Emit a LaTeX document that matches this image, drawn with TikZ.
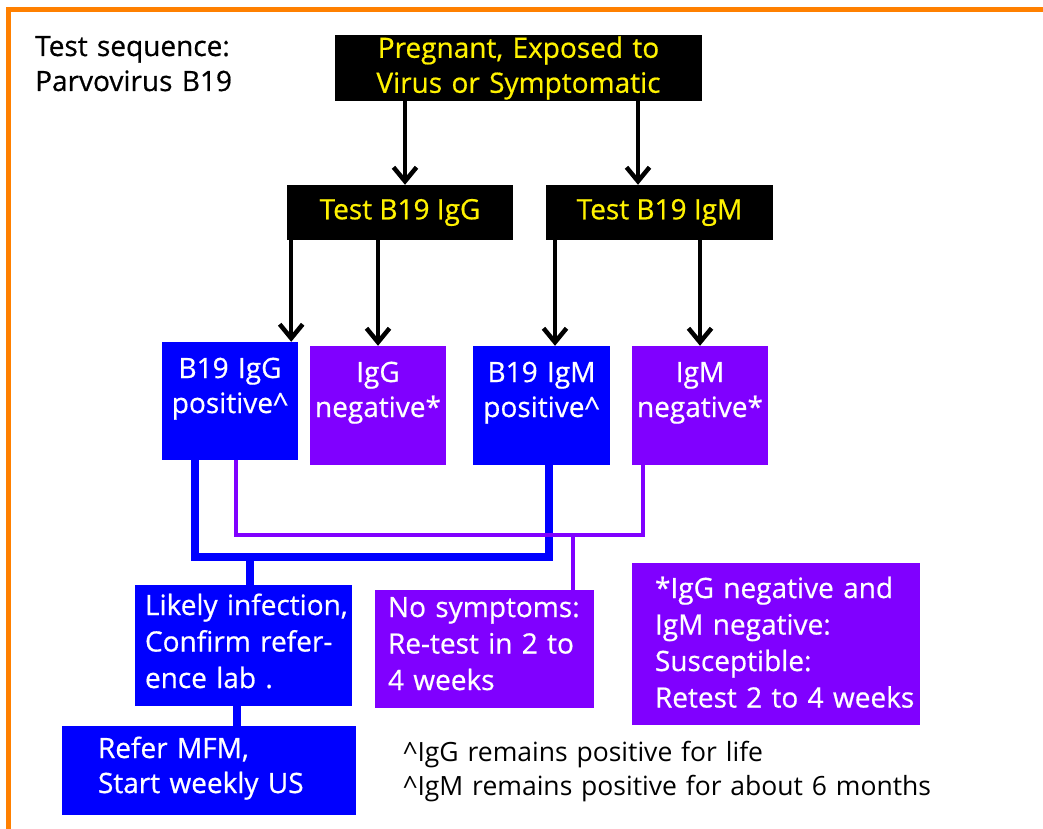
\documentclass[tikz,border=0pt]{standalone}
\usepackage{fontspec}
\setmainfont{Open Sans}[FakeBold=0.6]
\newfontfamily\notefont{Open Sans}
\usetikzlibrary{arrows.meta}
\definecolor{bblue}{HTML}{0000FF}
\definecolor{bviolet}{HTML}{8000FF}
\definecolor{frame}{HTML}{FF8000}
\begin{document}
\begin{tikzpicture}[x=1pt, y=-1pt, >={Straight Barb[length=14pt,width=23pt,line width=4.5pt]}]
\tikzstyle{every node}=[inner sep=0pt, font=\fontsize{28}{35}\selectfont]
\tikzstyle{blk}=[rectangle, fill=black, text=yellow, align=center]
\tikzstyle{res}=[rectangle, text=white, align=center, text width=136pt, text height=36pt, text depth=83pt]
\tikzstyle{act}=[rectangle, text=white, align=left, font=\fontsize{28}{36.5}\selectfont]
\tikzstyle{arr}=[->, line width=3.5pt]
\tikzstyle{bline}=[bblue, line width=8pt]
\tikzstyle{pline}=[bviolet, line width=4pt]
\useasboundingbox (0,0) rectangle (1043,829);
\draw[frame, line width=5pt] (8.5,829) -- (8.5,9.5) -- (1043,9.5);
% title and notes
\node[anchor=base west, align=left, text width=260pt](title) at (35,56) {Test sequence:\\Parvovirus B19};
\node[anchor=base west, align=left, text width=600pt, font=\notefont\fontsize{26.5}{34}\selectfont](notes) at (403,761) {\textasciicircum IgG remains positive for life\\\textasciicircum IgM remains positive for about 6 months};
% tests
\node[blk, minimum width=367pt, minimum height=66pt, text width=367pt](start) at (518.5,68) {Pregnant, Exposed to\\Virus or Symptomatic};
\node[blk, minimum width=226pt, minimum height=55pt](tigg) at (400,212.5) {Test B19 IgG};
\node[blk, minimum width=227pt, minimum height=55pt](tigm) at (659.5,212.5) {Test B19 IgM};
% results
\node[res, fill=bblue, text depth=82pt](igGpos) at (230,401) {B19 IgG\\positive\textasciicircum};
\node[res, fill=bviolet](igGneg) at (378,405.5) {IgG\\negative*};
\node[res, fill=bblue, text width=137pt](igMpos) at (541.5,405.5) {B19 IgM\\positive\textasciicircum};
\node[res, fill=bviolet](igMneg) at (700,405.5) {IgM\\negative*};
% actions
\node[act, fill=bblue, text width=197pt, inner xsep=10pt, text height=30pt, text depth=91pt](likely) at (243.5,645.5) {\mbox{Likely infection,}\\Confirm refer-\\ence lab .};
\node[act, fill=bblue, text width=222pt, inner xsep=36pt, text height=32pt, text depth=57pt, font=\fontsize{28}{35}\selectfont](refer) at (209,770.5) {Refer MFM,\\Start weekly US};
\node[act, fill=bviolet, text width=193pt, inner xsep=13pt, text height=27pt, text depth=91pt](nosym) at (484.5,649) {\mbox{No symptoms:}\\Re-test in 2 to\\4 weeks};
\node[act, fill=bviolet, text width=242pt, inner xsep=23pt, text height=35pt, text depth=127pt](susc) at (776,644) {\mbox{*IgG negative and}\\IgM negative:\\Susceptible:\\\mbox{Retest 2 to 4 weeks}};
% arrows
\coordinate (a1) at ([xshift=5pt]tigg.north);
\coordinate (a2) at ([xshift=-21.5pt]tigm.north);
\coordinate (a3) at ([xshift=-7pt]igGpos.north east);
\coordinate (a4) at ([xshift=13.5pt]igMpos.north);
\draw[arr] (a1 |- start.south) -- (a1);
\draw[arr] (a2 |- start.south) -- (a2);
\draw[arr] (a3 |- tigg.south) -- (a3);
\draw[arr] (igGneg.north |- tigg.south) -- (igGneg.north);
\draw[arr] (a4 |- tigm.south) -- (a4);
\draw[arr] (igMneg.north |- tigm.south) -- (igMneg.north);
% connectors
\draw[bline] ([xshift=-35pt]igGpos.south) -- ++(0,97) -| ([xshift=7.5pt]igMpos.south);
\draw[bline] ([xshift=6.5pt]likely.north) -- ++(0,-32);
\coordinate (lr) at ([xshift=-6.5pt]likely.south);
\draw[bline] (lr) -- (lr |- refer.north);
\draw[pline] ([xshift=6pt]igGpos.south) -- ++(0,75) -| ([xshift=-57pt]igMneg.south);
\draw[pline] ([xshift=88.5pt]nosym.north) -- ++(0,-57);
\end{tikzpicture}
\end{document}
